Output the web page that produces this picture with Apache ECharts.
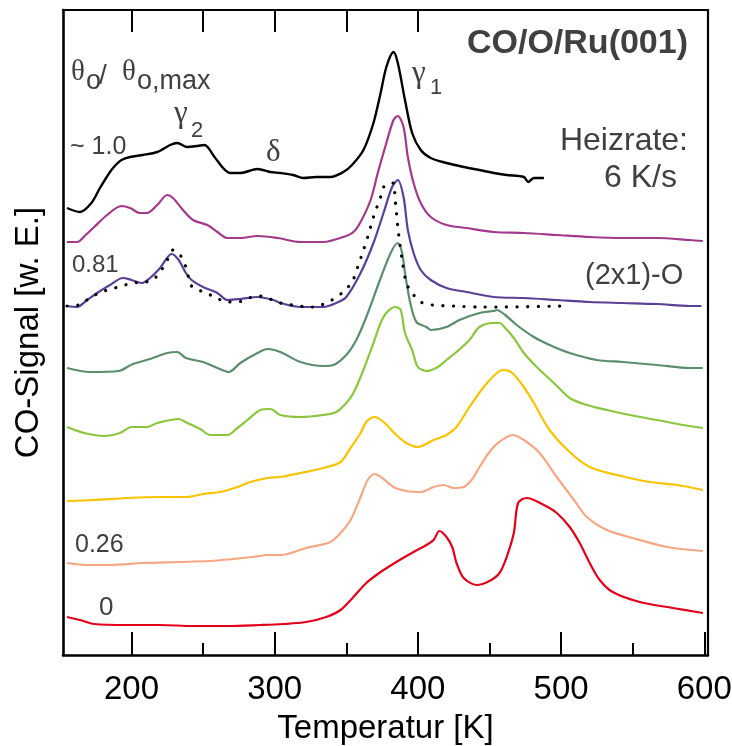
<!DOCTYPE html>
<html>
<head>
<meta charset="utf-8">
<script src="https://cdn.jsdelivr.net/npm/echarts@6/dist/echarts.min.js"></script>
<style>
  html, body { margin: 0; padding: 0; background: #fff; }
  #chart { width: 732px; height: 746px; }
</style>
</head>
<body>
<div id="chart"></div>
<script>
// CO thermal desorption from O-precovered Ru(001); curves are stacked with vertical offsets.
// Temperatures in K, signal in arbitrary units.

// axis ticks
const majorTicks = [200, 300, 400, 500, 600];
const minorTicks = [250, 350, 450, 550];
const topTicks = [200, 250, 300, 350, 400];

// theta_O ~ 1.0
const tBlack = [155,164,172,178,185,189,193,199,208,218,227,232,239,246,251,258,264,269,276,288,297,304,313,320,329,339,348,354,362,369,374,378,383,386,391,396,402,409,420,432,443,453,462,474,477,481,488];
const sBlack = [447,443,452,467,483,490,495,498,500,503,510,512,508,509,510,498,487,482,482,486,483,482,480,477,478,478,483,490,505,532,562,588,603,592,555,522,505,497,492,488,485,482,480,478,473,477,477];

const tMagenta = [155,162,168,174,183,193,199,206,211,218,225,229,236,243,253,260,267,276,288,302,318,334,348,355,360,367,372,378,383,386,390,393,397,402,409,420,434,453,474,497,520,543,567,590,599];
const sMagenta = [413,413,420,428,440,449,447,442,442,450,460,457,445,435,430,423,417,417,419,417,413,413,418,423,433,455,482,512,535,539,528,498,472,452,438,430,427,423,422,420,418,417,417,415,414];

// theta_O = 0.81
const tIndigo = [155,162,169,176,185,194,200,207,213,220,228,233,238,242,250,260,267,276,288,299,304,318,334,343,350,360,369,376,382,386,390,393,397,402,409,420,434,453,474,497,520,543,567,590,598];
const sIndigo = [349,348,355,362,370,377,375,372,377,387,401,395,382,375,368,362,355,356,358,355,352,348,348,352,358,382,412,442,468,475,458,425,402,385,375,367,363,358,357,355,353,352,351,349,349];

// (2x1)-O reference trace (dotted)
const tDotted = [155,163,172,179,186,193,201,210,215,221,225,229,234,238,240,243,251,258,267,274,282,289,295,304,327,340,347,354,358,362,365,369,374,377,383,384,386,389,392,396,402,410,425,443,455,500];
const sDotted = [349,350,358,363,366,369,372,373,375,385,395,405,400,388,377,367,363,358,353,353,357,359,357,352,348,355,362,373,388,405,418,438,458,470,472,458,428,395,372,362,353,350,349,348,348,349];

const tTeal = [155,171,191,201,213,225,232,238,250,260,268,276,288,295,304,318,334,341,350,357,364,373,381,386,389,391,395,399,406,409,420,429,443,453,455,461,469,481,492,506,525,543,567,590,599];
const sTeal = [287,283,284,291,296,302,303,297,293,287,283,292,302,306,303,293,289,290,300,315,338,373,402,412,402,382,350,333,328,325,328,335,342,344,345,340,330,318,310,302,295,293,290,287,287];

const tLime = [155,167,181,192,200,211,218,233,239,248,255,267,274,281,290,297,304,318,334,343,350,355,362,369,374,378,384,388,391,396,400,406,414,420,427,436,443,453,457,461,467,474,483,495,506,518,532,548,567,585,599];
const sLime = [228,222,219,222,228,228,232,236,232,226,220,220,227,235,245,246,240,238,240,243,252,262,285,312,332,342,348,345,322,305,288,284,288,295,303,315,328,332,332,327,317,302,288,272,257,250,245,240,235,230,227];

const tYellow = [155,174,197,220,239,250,262,274,283,295,304,318,334,346,353,360,364,370,376,385,392,400,411,420,427,436,446,456,460,466,474,481,492,506,520,539,562,581,599];
const sYellow = [154,155,157,158,158,161,163,168,173,177,178,182,187,193,207,222,233,238,233,220,212,208,215,220,228,248,268,283,285,282,268,252,225,203,188,180,173,170,165];

// theta_O = 0.26
const tSalmon = [155,169,185,208,232,255,271,285,295,304,322,339,346,353,360,365,370,376,383,392,402,411,418,425,432,438,443,450,456,466,474,485,497,509,518,532,550,574,599];
const sSalmon = [92,90,90,92,93,94,96,98,100,100,107,113,122,135,158,175,181,176,168,164,163,168,170,167,168,176,188,203,212,220,215,202,178,155,138,125,117,108,104];

// theta_O = 0 (clean surface)
const tRed = [155,164,174,197,220,243,267,290,306,322,336,346,355,364,374,385,397,406,411,415,420,424,427,432,441,450,457,462,467,470,476,488,497,506,513,520,527,536,555,578,599];
const sRed = [38,35,31,30,30,29,29,30,31,33,38,45,58,72,83,93,103,110,115,124,118,108,92,77,70,74,82,98,122,152,157,150,142,128,112,92,75,63,53,47,42];

const curves = [
  { name: '1.0',  t: tBlack,   s: sBlack,   color: '#000000', width: 2.4 },
  { name: 'm',    t: tMagenta, s: sMagenta, color: '#a3398a', width: 2.2 },
  { name: '0.81', t: tIndigo,  s: sIndigo,  color: '#5b4196', width: 2.2 },
  { name: 't',    t: tTeal,    s: sTeal,    color: '#5b8e6d', width: 2.2 },
  { name: 'l',    t: tLime,    s: sLime,    color: '#8cc63f', width: 2.2 },
  { name: 'y',    t: tYellow,  s: sYellow,  color: '#f8c300', width: 2.2 },
  { name: '0.26', t: tSalmon,  s: sSalmon,  color: '#f6a783', width: 2.2 },
  { name: '0',    t: tRed,     s: sRed,     color: '#e2001a', width: 2.2 }
];

const pair = (t, s) => t.map((v, i) => [v, s[i]]);

const series = curves.map(c => ({
  type: 'line',
  name: c.name,
  xAxisIndex: 0,
  yAxisIndex: 0,
  data: pair(c.t, c.s),
  showSymbol: false,
  smooth: 0.3,
  lineStyle: { color: c.color, width: c.width, join: 'round' },
  silent: true,
  z: 3
}));
series.push({
  type: 'line',
  name: '(2x1)-O',
  xAxisIndex: 0,
  yAxisIndex: 0,
  data: pair(tDotted, sDotted),
  showSymbol: false,
  smooth: 0.3,
  lineStyle: { color: '#000', width: 3.2, type: [0.1, 10.5], cap: 'round' },
  silent: true,
  z: 4
});

const GRAY = '#404040';
const SANS = '"Liberation Sans", Arial, sans-serif';
const SERIF = '"Liberation Serif", "Times New Roman", serif';

function txt(text, x, y, font, align) {
  return {
    type: 'text',
    z: 10,
    silent: true,
    style: {
      text: text, x: x, y: y, font: font, fill: GRAY,
      textAlign: align || 'left', align: align || 'left',
      textVerticalAlign: 'middle', verticalAlign: 'middle'
    }
  };
}

const graphics = [
  txt('CO/O/Ru(001)', 688, 44, 'bold 34px ' + SANS, 'right'),
  txt('Heizrate:', 688, 141, '32px ' + SANS, 'right'),
  txt('6 K/s', 677, 178, '32px ' + SANS, 'right'),
  txt('(2x1)-O', 585, 276, '29px ' + SANS),
  txt('~ 1.0', 70, 147, '25px ' + SANS),
  txt('0.81', 72, 265, '24px ' + SANS),
  txt('0.26', 75, 545, '25px ' + SANS),
  txt('0', 99, 608, '26px ' + SANS),
  // coverage label θO / θO,max
  txt('θ', 71, 72, '29px ' + SERIF),
  txt('o', 86, 82, '27px ' + SANS),
  txt('/', 99, 76, '28px ' + SANS),
  txt('θ', 122, 72, '29px ' + SERIF),
  txt('o,max', 137, 82, '27px ' + SANS),
  // peak labels
  txt('γ', 174, 114, '31px ' + SERIF),
  txt('2', 191, 131, '22px ' + SANS),
  txt('δ', 266, 153, '31px ' + SERIF),
  txt('γ', 412, 74, '31px ' + SERIF),
  txt('1', 430, 88, '22px ' + SANS)
];

const axisLineStyle = { color: '#000', width: 2.2 };
const xRange = { min: 152.2, max: 602.6 };

const option = {
  animation: false,
  backgroundColor: '#fff',
  grid: { left: 63, right: 24, top: 10, bottom: 91, containLabel: false, outerBoundsMode: 'none' },
  xAxis: [
    {
      type: 'value', position: 'bottom', ...xRange,
      axisLine: { show: true, onZero: false, lineStyle: { color: '#000', width: 2.6 } },
      axisTick: { show: true, inside: true, length: 23, lineStyle: { color: '#000', width: 2 }, customValues: majorTicks },
      axisLabel: { show: true, margin: 18, fontSize: 33, color: '#000', fontFamily: SANS, customValues: majorTicks },
      splitLine: { show: false },
      name: 'Temperatur [K]', nameLocation: 'middle', nameGap: 57,
      nameTextStyle: { fontSize: 33, color: '#000', fontFamily: SANS }
    },
    {
      type: 'value', position: 'bottom', ...xRange,
      axisLine: { show: false },
      axisTick: { show: true, inside: true, length: 12, lineStyle: { color: '#000', width: 2 }, customValues: minorTicks },
      axisLabel: { show: false },
      splitLine: { show: false }
    },
    {
      type: 'value', position: 'top', ...xRange,
      axisLine: { show: true, onZero: false, lineStyle: axisLineStyle },
      axisTick: { show: true, inside: true, length: 22, lineStyle: { color: '#000', width: 2 }, customValues: topTicks },
      axisLabel: { show: false },
      splitLine: { show: false }
    }
  ],
  yAxis: [
    {
      type: 'value', position: 'left', min: 0, max: 645,
      axisLine: { show: true, onZero: false, lineStyle: { color: '#000', width: 2.6 } },
      axisTick: { show: false }, axisLabel: { show: false }, splitLine: { show: false },
      name: 'CO-Signal [w. E.]', nameLocation: 'middle', nameGap: 18,
      nameTextStyle: { fontSize: 33, color: '#000', fontFamily: SANS }
    },
    {
      type: 'value', position: 'right', min: 0, max: 645,
      axisLine: { show: true, onZero: false, lineStyle: axisLineStyle },
      axisTick: { show: false }, axisLabel: { show: false }, splitLine: { show: false }
    }
  ],
  series: series,
  graphic: { elements: graphics }
};

const chart = echarts.init(document.getElementById('chart'), null, { renderer: 'canvas' });
chart.setOption(option);
</script>
</body>
</html>
